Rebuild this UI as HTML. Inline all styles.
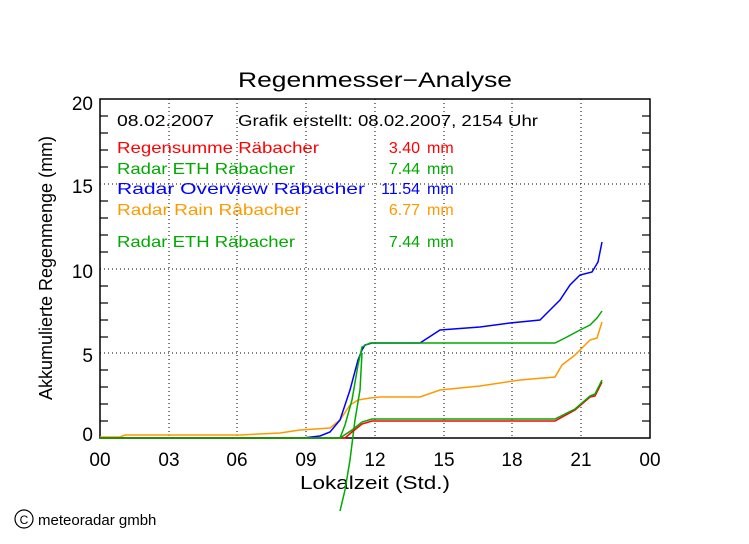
<!DOCTYPE html>
<html><head><style>
body{margin:0;background:#fff;}
svg text{font-family:"Liberation Sans","DejaVu Sans",sans-serif;}
</style></head><body>
<svg width="749" height="539" xmlns="http://www.w3.org/2000/svg">
<rect width="749" height="539" fill="#fff"/>
<text x="238" y="87" font-size="21" textLength="274" lengthAdjust="spacingAndGlyphs">Regenmesser−Analyse</text>
<g stroke="#000" stroke-dasharray="1,3" stroke-width="1">
<line x1="169" y1="99" x2="169" y2="438"/><line x1="237" y1="99" x2="237" y2="438"/>
<line x1="306" y1="99" x2="306" y2="438"/><line x1="375" y1="99" x2="375" y2="438"/>
<line x1="444" y1="99" x2="444" y2="438"/><line x1="512" y1="99" x2="512" y2="438"/>
<line x1="581" y1="99" x2="581" y2="438"/>
<line x1="100" y1="184" x2="650" y2="184"/><line x1="100" y1="269" x2="650" y2="269"/><line x1="100" y1="353" x2="650" y2="353"/>
</g>
<rect x="100" y="99" width="550" height="339" fill="none" stroke="#000" stroke-width="1.5"/>
<g stroke="#000" stroke-width="1.2">
<line x1="100" y1="116" x2="108" y2="116"/><line x1="100" y1="133" x2="108" y2="133"/><line x1="100" y1="150" x2="108" y2="150"/><line x1="100" y1="167" x2="108" y2="167"/>
<line x1="100" y1="201" x2="108" y2="201"/><line x1="100" y1="218" x2="108" y2="218"/><line x1="100" y1="235" x2="108" y2="235"/><line x1="100" y1="252" x2="108" y2="252"/>
<line x1="100" y1="286" x2="108" y2="286"/><line x1="100" y1="303" x2="108" y2="303"/><line x1="100" y1="320" x2="108" y2="320"/><line x1="100" y1="337" x2="108" y2="337"/>
<line x1="100" y1="370" x2="108" y2="370"/><line x1="100" y1="387" x2="108" y2="387"/><line x1="100" y1="404" x2="108" y2="404"/><line x1="100" y1="421" x2="108" y2="421"/>
<line x1="642" y1="116" x2="650" y2="116"/><line x1="642" y1="133" x2="650" y2="133"/><line x1="642" y1="150" x2="650" y2="150"/><line x1="642" y1="167" x2="650" y2="167"/>
<line x1="642" y1="201" x2="650" y2="201"/><line x1="642" y1="218" x2="650" y2="218"/><line x1="642" y1="235" x2="650" y2="235"/><line x1="642" y1="252" x2="650" y2="252"/>
<line x1="642" y1="286" x2="650" y2="286"/><line x1="642" y1="303" x2="650" y2="303"/><line x1="642" y1="320" x2="650" y2="320"/><line x1="642" y1="337" x2="650" y2="337"/>
<line x1="642" y1="370" x2="650" y2="370"/><line x1="642" y1="387" x2="650" y2="387"/><line x1="642" y1="404" x2="650" y2="404"/><line x1="642" y1="421" x2="650" y2="421"/>
</g>
<g font-size="19" text-anchor="end">
<text x="93" y="110">20</text><text x="93" y="193">15</text><text x="93" y="278">10</text><text x="93" y="362">5</text><text x="93" y="441">0</text>
</g>
<g font-size="19" text-anchor="middle">
<text x="100" y="466">00</text><text x="169" y="466">03</text><text x="237" y="466">06</text><text x="306" y="466">09</text>
<text x="375" y="466">12</text><text x="444" y="466">15</text><text x="512" y="466">18</text><text x="581" y="466">21</text><text x="650" y="466">00</text>
</g>
<text x="300" y="489" font-size="18" textLength="150" lengthAdjust="spacingAndGlyphs">Lokalzeit (Std.)</text>
<text transform="translate(52,268) rotate(-90)" font-size="18" text-anchor="middle">Akkumulierte Regenmenge (mm)</text>
<g font-size="16">
<text x="117" y="126" textLength="97" lengthAdjust="spacingAndGlyphs">08.02.2007</text><text x="238" y="126" font-size="15.5" textLength="300" lengthAdjust="spacingAndGlyphs">Grafik erstellt: 08.02.2007, 2154 Uhr</text>
<g fill="#ff0000"><text x="117" y="153" textLength="202" lengthAdjust="spacingAndGlyphs">Regensumme Räbacher</text><text x="420" y="153" text-anchor="end">3.40</text><text x="427" y="153">mm</text></g>
<g fill="#00aa00"><text x="117" y="174" textLength="178" lengthAdjust="spacingAndGlyphs">Radar ETH Räbacher</text><text x="420" y="174" text-anchor="end">7.44</text><text x="427" y="174">mm</text></g>
<g fill="#0000ff"><text x="117" y="194" textLength="248" lengthAdjust="spacingAndGlyphs">Radar Overview Räbacher</text><text x="420" y="194" text-anchor="end">11.54</text><text x="427" y="194">mm</text></g>
<g fill="#ff9900"><text x="117" y="215" textLength="184" lengthAdjust="spacingAndGlyphs">Radar Rain Râbacher</text><text x="420" y="215" text-anchor="end">6.77</text><text x="427" y="215">mm</text></g>
<g fill="#00aa00"><text x="117" y="247" textLength="178" lengthAdjust="spacingAndGlyphs">Radar ETH Räbacher</text><text x="420" y="247" text-anchor="end">7.44</text><text x="427" y="247">mm</text></g>
</g>
<g fill="none" stroke-width="1.5">
<polyline stroke="#ff9900" points="100,437 120,437 125,435 240,435 280,433 300,430 330,428 340,420 350,405 358,400 370,398 380,397 420,397 440,390 480,386 520,380 555,377 562,365 575,355 590,340 597,338 602,322"/>
<polyline stroke="#0000ff" points="100,438 303,438 320,436 330,432 340,420 350,390 358,360 362,350 365,345 372,343 420,343 440,330 480,327 510,323 540,320 550,310 560,300 570,285 580,275 592,272 598,262 602,242"/>
<polyline stroke="#00aa00" points="100,438 340,438 345,425 352,400 358,365 362,347 370,343 555,343 565,338 580,330 590,325 597,318 602,311"/>
<polyline stroke="#00aa00" points="340,511 345,490 350,460 355,420 360,390 362,353"/>
<polyline stroke="#ff0000" points="100,438 345,438 352,432 362,424 372,421 555,421 575,410 590,397 595,396 602,382"/>
<polyline stroke="#00aa00" points="100,438 340,438 352,430 362,422 372,419 555,419 575,409 590,396 595,394 602,380"/>
</g>
<circle cx="24" cy="519" r="9" fill="none" stroke="#000" stroke-width="1.2"/>
<text x="24" y="524" font-size="12" text-anchor="middle">C</text>
<text x="38" y="525" font-size="15">meteoradar gmbh</text>
</svg>
</body></html>
